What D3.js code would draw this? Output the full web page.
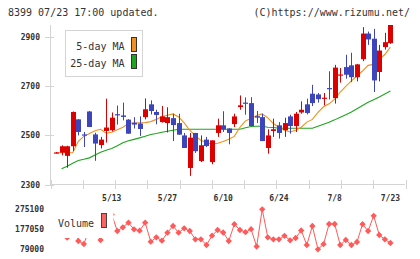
<!DOCTYPE html>
<html>
<head>
<meta charset="utf-8">
<script src="https://cdn.jsdelivr.net/npm/d3@7"></script>
<style>
  body { margin: 0; background: #fff; }
  svg { display: block; }
  text { font-family: "DejaVu Sans Mono", monospace; fill: #333; }
</style>
</head>
<body>
<svg id="chart" width="420" height="259"></svg>
<script>
// trading days, 4/24 .. 7/23
var dates = ["4/24","4/25","4/26","4/30","5/1","5/2","5/7","5/8","5/9","5/10",
  "5/13","5/14","5/15","5/16","5/17","5/20","5/21","5/22","5/23","5/24",
  "5/27","5/28","5/29","5/30","5/31","6/3","6/4","6/5","6/6","6/7",
  "6/10","6/11","6/12","6/13","6/14","6/17","6/18","6/19","6/20","6/21",
  "6/24","6/25","6/26","6/27","6/28","7/1","7/2","7/3","7/4","7/5",
  "7/8","7/9","7/10","7/11","7/12","7/16","7/17","7/18","7/19","7/22","7/23"];

var open = [2428,2429,2416,2455,2564,2503,2596,2503,2460,2517,
  2520,2585,2580,2563,2550,2547,2573,2625,2594,2553,
  2549,2569,2549,2499,2367,2509,2395,2482,2391,2509,
  2540,2527,2545,2614,2632,2630,2577,2573,2448,2517,
  2540,2520,2576,2537,2592,2625,2668,2665,2648,2691,
  2650,2742,2776,2783,2735,2808,2912,2891,2756,2857,2873];
var high = [2432,2459,2457,2596,2565,2513,2598,2510,2493,2648,
  2592,2620,2632,2565,2573,2576,2649,2641,2603,2618,
  2613,2587,2587,2509,2509,2509,2499,2493,2479,2567,
  2597,2528,2587,2661,2653,2654,2598,2587,2524,2567,
  2553,2571,2583,2594,2637,2648,2704,2671,2671,2759,
  2785,2772,2826,2834,2789,2938,2920,2931,2866,2915,2960];
var low = [2426,2418,2368,2436,2499,2452,2533,2396,2446,2470,
  2515,2543,2560,2506,2527,2497,2564,2584,2544,2551,
  2511,2476,2502,2448,2335,2428,2391,2452,2382,2493,
  2513,2463,2533,2603,2583,2537,2549,2476,2425,2493,
  2486,2493,2506,2513,2587,2584,2618,2632,2621,2645,
  2628,2713,2729,2715,2718,2800,2866,2675,2718,2847,2870];
var close = [2430,2455,2455,2594,2513,2501,2533,2466,2482,2531,
  2571,2582,2574,2506,2543,2525,2605,2598,2582,2576,
  2573,2541,2502,2448,2490,2435,2459,2456,2479,2540,
  2523,2509,2576,2621,2628,2537,2571,2476,2499,2524,
  2509,2549,2537,2587,2603,2590,2630,2646,2652,2688,
  2774,2746,2745,2735,2787,2912,2888,2722,2843,2877,2955];

// moving averages as drawn
var ma5 = [2429,2429,2429,2429,2475,2495,2507,2518,2524,2508,
  2512,2522,2532,2547,2550,2550,2551,2555,2564,2576,
  2581,2586,2574,2550,2520,2497,2479,2469,2464,2467,
  2474,2483,2495,2532,2558,2568,2580,2586,2570,2547,
  2532,2521,2513,2520,2532,2553,2564,2592,2615,2627,
  2646,2675,2698,2720,2740,2760,2783,2787,2807,2827,2857];
var ma25 = [null,2364,2374,2386,2397,2402,2408,2420,2431,2439,
  2446,2457,2469,2477,2483,2489,2496,2503,2507,2512,
  2516,2520,2524,2524,2524,2524,2524,2524,2524,2524,
  2524,2524,2524,2524,2530,2535,2536,2536,2532,2531,
  2528,2528,2528,2528,2528,2528,2528,2536,2544,2552,
  2562,2573,2583,2594,2607,2620,2633,2644,2655,2667,2679];

var volume = [150000,160000,135900,260000,119700,105000,180000,190000,124600,200000,
  250000,168700,186900,209400,177000,170200,209400,116300,137800,121200,
  160400,193200,160400,181900,168700,128000,128000,100100,145700,173600,
  161400,119700,202000,173600,162800,177500,92700,275100,137800,128000,
  128000,145200,123100,134400,171200,100100,193200,79000,104000,203000,
  203000,100100,124600,100100,114800,202000,168700,243200,149100,128000,109900];

var priceTicks = [2300, 2500, 2700, 2900];
var dateTicks = ["5/13","5/27","6/10","6/24","7/8","7/23"];
var volTicks = [79000, 177050, 275100];

var svg = d3.select("#chart");
var axisColor = "#d4d4d4";
var upColor = "#dd0000", downColor = "#3d45bd";

var x = d3.scaleLinear().domain([0, dates.length - 1]).range([56, 390.4]);
var y = d3.scaleLinear().domain([2300, 2900]).range([184.5, 36.5]);
var yv = d3.scaleLinear().domain([79000, 275100]).range([249.3, 209.3]);

// header
svg.append("text").attr("x", 8).attr("y", 16).style("font-size", "10px")
  .text("8399 07/23 17:00 updated.");
svg.append("text").attr("x", 410).attr("y", 16).attr("text-anchor", "end")
  .style("font-size", "10px").text("(C)https://www.rizumu.net/");

svg.append("clipPath").attr("id", "plot")
  .append("rect").attr("x", 50).attr("y", 25).attr("width", 360).attr("height", 160);

// axes
svg.append("line").attr("x1", 50.5).attr("x2", 50.5).attr("y1", 25).attr("y2", 185)
  .attr("stroke", axisColor);
svg.append("line").attr("x1", 50).attr("x2", 405).attr("y1", 184.5).attr("y2", 184.5)
  .attr("stroke", axisColor);
svg.selectAll(".ytick").data(priceTicks).enter().append("line")
  .attr("x1", 45).attr("x2", 54)
  .attr("y1", function(d) { return Math.round(y(d)) + 0.5; })
  .attr("y2", function(d) { return Math.round(y(d)) + 0.5; })
  .attr("stroke", axisColor);
svg.selectAll(".ylab").data(priceTicks).enter().append("text")
  .attr("x", 40).attr("y", function(d) { return y(d) + 3; })
  .attr("text-anchor", "end").style("font-size", "8px").style("font-weight", "bold")
  .text(function(d) { return d; });

// bottom ticks, evenly spaced
var xt = d3.scaleLinear().domain([0, 11]).range([50.5, 405.5]);
svg.selectAll(".xtick").data(d3.range(12)).enter().append("line")
  .attr("x1", function(d) { return Math.round(xt(d)) + 0.5; })
  .attr("x2", function(d) { return Math.round(xt(d)) + 0.5; })
  .attr("y1", 180).attr("y2", 189).attr("stroke", axisColor);
svg.selectAll(".xlab").data(dateTicks).enter().append("text")
  .attr("x", function(d) { return x(dates.indexOf(d)); }).attr("y", 201)
  .attr("text-anchor", "middle").style("font-size", "8px").style("font-weight", "bold")
  .text(function(d) { return d; });

var plot = svg.append("g").attr("clip-path", "url(#plot)");

// moving averages
var line = d3.line()
  .defined(function(d) { return d != null; })
  .x(function(d, i) { return x(i); })
  .y(function(d) { return y(d); });
plot.append("path").datum(ma25).attr("d", line)
  .attr("fill", "none").attr("stroke", "#1ea51e").attr("stroke-width", 1.1);
plot.append("path").datum(ma5).attr("d", line)
  .attr("fill", "none").attr("stroke", "#f0901e").attr("stroke-width", 1.1);

// candles
var candle = plot.selectAll(".candle").data(dates).enter().append("g");
candle.append("line")
  .attr("x1", function(d, i) { return Math.round(x(i)) + 0.5; })
  .attr("x2", function(d, i) { return Math.round(x(i)) + 0.5; })
  .attr("y1", function(d, i) { return y(high[i]); })
  .attr("y2", function(d, i) { return y(low[i]); })
  .attr("stroke", function(d, i) { return close[i] >= open[i] ? upColor : downColor; });
candle.append("rect")
  .attr("x", function(d, i) { return Math.round(x(i)) - 2; })
  .attr("width", 5)
  .attr("y", function(d, i) { return y(Math.max(open[i], close[i])); })
  .attr("height", function(d, i) { return Math.max(1.2, Math.abs(y(open[i]) - y(close[i]))); })
  .attr("fill", function(d, i) { return close[i] >= open[i] ? upColor : downColor; });

// legend
var lg = svg.append("g");
lg.append("rect").attr("x", 65.5).attr("y", 30.5).attr("width", 77).attr("height", 46)
  .attr("fill", "#fff").attr("stroke", "#d4d4d4");
lg.append("text").attr("x", 124.5).attr("y", 50).attr("text-anchor", "end")
  .style("font-size", "10px").text("5-day MA");
lg.append("text").attr("x", 124.5).attr("y", 67).attr("text-anchor", "end")
  .style("font-size", "10px").text("25-day MA");
lg.append("rect").attr("x", 131.5).attr("y", 37.5).attr("width", 5).attr("height", 14)
  .attr("fill", "#f0901e").attr("stroke", "#333");
lg.append("rect").attr("x", 131.5).attr("y", 54.5).attr("width", 5).attr("height", 14)
  .attr("fill", "#1ea51e").attr("stroke", "#333");

// volume
svg.selectAll(".vlab").data(volTicks).enter().append("text")
  .attr("x", 44).attr("y", function(d) { return yv(d) + 3; })
  .attr("text-anchor", "end").style("font-size", "8px").style("font-weight", "bold")
  .text(function(d) { return d; });

var vline = d3.line().x(function(d, i) { return x(i); }).y(function(d) { return yv(d); });
svg.append("path").datum(volume).attr("d", vline)
  .attr("fill", "none").attr("stroke", "#ff5a5a").attr("stroke-width", 1);
svg.selectAll(".vpt").data(volume).enter().append("path")
  .attr("d", d3.symbol().type(d3.symbolSquare).size(20))
  .attr("transform", function(d, i) { return "translate(" + x(i) + "," + yv(d) + ") rotate(45)"; })
  .attr("fill", "#ff5a5a");

var vlg = svg.append("g");
vlg.append("rect").attr("x", 50).attr("y", 204).attr("width", 63.5).attr("height", 34)
  .attr("fill", "#fff");
vlg.append("text").attr("x", 58).attr("y", 227).style("font-size", "10px").text("Volume");
vlg.append("rect").attr("x", 101.5).attr("y", 213.5).attr("width", 5).attr("height", 14)
  .attr("fill", "#ff6060").attr("stroke", "#444");
</script>
</body>
</html>
